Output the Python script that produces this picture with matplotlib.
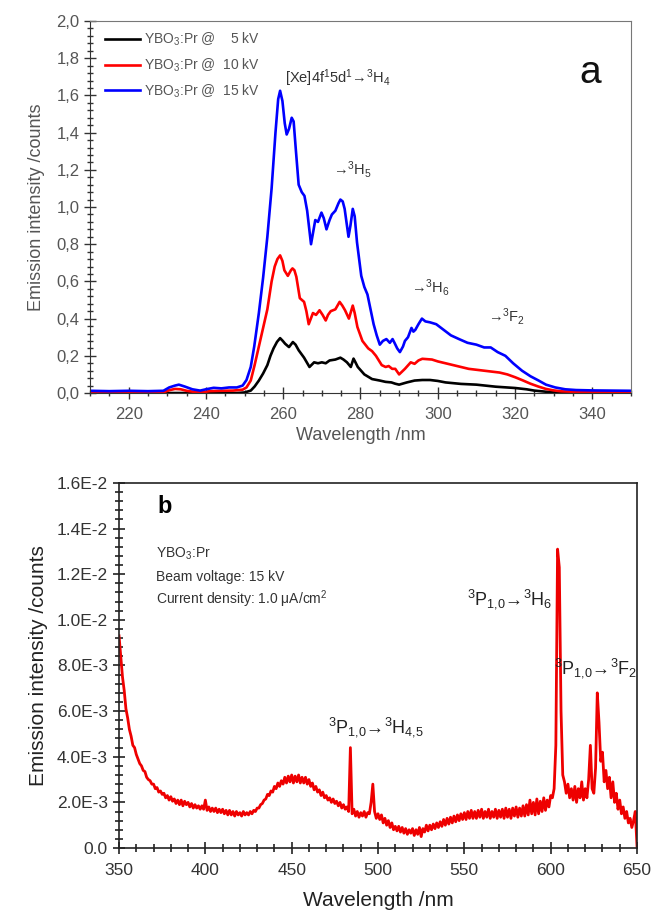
import numpy as np
import matplotlib
matplotlib.use("Agg")
import matplotlib.pyplot as plt
from matplotlib.ticker import MultipleLocator, FuncFormatter

plt.rcParams['font.family'] = ['Liberation Sans', 'DejaVu Sans']
plt.rcParams['mathtext.fontset'] = 'custom'
plt.rcParams['mathtext.rm'] = 'Liberation Sans'
plt.rcParams['mathtext.default'] = 'regular'

# ---- panel a: cathodoluminescence spectra in the UV ----
wl_15kv = [210, 215, 220, 225, 229, 230.5, 232, 233, 234.5, 236.5, 238.5, 240, 242, 244, 246, 248,
           249.5, 250.5, 251.6, 252.5, 253.7, 254.8, 255.9, 257, 258, 258.7, 259.2, 259.8, 260.4,
           260.9, 261.5, 262.2, 262.7, 263.3, 264.0, 264.8, 265.5, 266.2, 267.2, 268.3, 269.0,
           269.9, 270.5, 271.2, 272.0, 272.6, 273.5, 274.3, 274.8, 275.4, 275.9, 276.9, 277.4,
           278.0, 278.5, 279.1, 280.2, 281.0, 281.8, 282.6, 283.4, 284.2, 285.0, 285.8, 286.7,
           287.6, 288.3, 288.8, 289.5, 290.2, 291.0, 291.5, 292.3, 293.2, 293.7, 294.2, 295.0,
           295.9, 296.8, 298.0, 299.6, 301.5, 303.4, 305.5, 307.7, 310.0, 312.0, 313.7, 315.5,
           317.5, 319.5, 321.8, 324.0, 326.1, 328.0, 330.4, 333, 335.8, 340, 345, 350]
int_15kv = [0.012, 0.010, 0.012, 0.010, 0.012, 0.030, 0.040, 0.045, 0.035, 0.020, 0.013, 0.020,
            0.028, 0.025, 0.030, 0.030, 0.040, 0.070, 0.14, 0.25, 0.43, 0.62, 0.84, 1.10, 1.40,
            1.58, 1.625, 1.57, 1.45, 1.39, 1.42, 1.48, 1.46, 1.30, 1.12, 1.08, 1.06, 0.98, 0.80,
            0.93, 0.92, 0.97, 0.94, 0.88, 0.93, 0.96, 0.98, 1.02, 1.04, 1.03, 0.99, 0.84, 0.90,
            0.99, 0.95, 0.81, 0.63, 0.57, 0.53, 0.45, 0.37, 0.31, 0.26, 0.28, 0.29, 0.27, 0.29,
            0.27, 0.24, 0.22, 0.25, 0.28, 0.30, 0.35, 0.33, 0.34, 0.37, 0.40, 0.385, 0.38, 0.37,
            0.34, 0.31, 0.29, 0.27, 0.26, 0.245, 0.245, 0.22, 0.20, 0.16, 0.12, 0.09, 0.067, 0.045,
            0.030, 0.020, 0.016, 0.014, 0.013, 0.012]

wl_10kv = [210, 225, 229, 230.5, 232, 233.5, 235, 237, 239, 241, 244, 247, 249.5, 250.5, 251.6,
           252.6, 253.7, 254.8, 255.9, 257, 257.8, 258.5, 259.2, 259.8, 260.3, 261.2, 262.0,
           262.4, 262.9, 263.4, 264.3, 265.4, 266.0, 266.6, 267.7, 268.5, 269.4, 270.2, 271.0,
           271.6, 272.3, 273.5, 274.6, 275.3, 276.0, 277.0, 278.0, 278.5, 279.2, 280.5, 282.0,
           283.0, 284.0, 285.5, 286.5, 287.3, 288.2, 289.0, 290.0, 291.5, 293.0, 294.0, 295.0,
           296.0, 298.5, 300.0, 302.0, 304.0, 308.0, 312.0, 316.0, 318.0, 320.0, 322.0, 324.0,
           326.0, 328.0, 330.0, 332.0, 336, 350]
int_10kv = [0.003, 0.003, 0.004, 0.015, 0.022, 0.020, 0.012, 0.006, 0.004, 0.010, 0.012, 0.013,
            0.018, 0.030, 0.067, 0.15, 0.25, 0.35, 0.45, 0.60, 0.68, 0.72, 0.74, 0.71, 0.66,
            0.63, 0.66, 0.67, 0.66, 0.625, 0.51, 0.49, 0.44, 0.37, 0.43, 0.42, 0.445, 0.42, 0.39,
            0.42, 0.44, 0.45, 0.49, 0.47, 0.445, 0.40, 0.47, 0.43, 0.355, 0.28, 0.24, 0.225, 0.20,
            0.15, 0.14, 0.145, 0.13, 0.13, 0.10, 0.13, 0.165, 0.157, 0.175, 0.184, 0.18, 0.17,
            0.16, 0.15, 0.13, 0.12, 0.11, 0.10, 0.085, 0.068, 0.05, 0.035, 0.022, 0.014, 0.009,
            0.006, 0.005]

wl_5kv = [210, 248, 250, 251.6, 252.6, 253.7, 254.8, 255.9, 256.7, 257.5, 258.4, 259.2, 259.9,
          260.5, 261.5, 262.5, 263.2, 264.0, 265.4, 266.8, 268.0, 269.0, 270.0, 271.0, 272.0,
          273.5, 274.8, 275.6, 276.5, 277.5, 278.2, 278.7, 279.3, 281.0, 283.0, 285.0, 286.5,
          288.0, 289.0, 290.0, 292.0, 294.0, 296, 298.0, 300, 302.0, 306.0, 310.0, 315.0, 320.0,
          323, 325.0, 328, 330.0, 335, 350]
int_5kv = [0.0, 0.0, 0.003, 0.013, 0.035, 0.067, 0.105, 0.15, 0.20, 0.24, 0.275, 0.295, 0.28,
           0.265, 0.247, 0.274, 0.26, 0.23, 0.19, 0.14, 0.165, 0.16, 0.165, 0.16, 0.175, 0.18,
           0.19, 0.18, 0.165, 0.14, 0.185, 0.165, 0.14, 0.10, 0.075, 0.067, 0.06, 0.057, 0.05,
           0.045, 0.057, 0.067, 0.07, 0.07, 0.065, 0.057, 0.049, 0.045, 0.034, 0.027, 0.02, 0.013,
           0.007, 0.004, 0.002, 0.001]

labels_a = ["YBO$_3$:Pr @    5 kV", "YBO$_3$:Pr @  10 kV", "YBO$_3$:Pr @  15 kV"]

# ---- panel b: visible spectrum at 15 kV, 1 nm steps, values in 1e-3 counts ----
wl_vis = np.arange(350, 651)
int_vis = [
    9.3, 8.4, 7.5, 6.9, 6.1, 5.7, 5.2, 4.9, 4.5, 4.4,          # 350-359
    4.1, 3.9, 3.7, 3.6, 3.4, 3.35, 3.1, 3.0, 2.95, 2.8,        # 360-369
    2.8, 2.6, 2.65, 2.45, 2.5, 2.35, 2.4, 2.2, 2.3, 2.1,       # 370-379
    2.25, 2.05, 2.15, 1.95, 2.1, 1.9, 2.1, 1.85, 2.05, 1.9,    # 380-389
    2.0, 1.8, 1.95, 1.75, 1.9, 1.75, 1.85, 1.7, 1.85, 1.7,     # 390-399
    2.1, 1.65, 1.8, 1.6, 1.75, 1.6, 1.75, 1.55, 1.7, 1.55,     # 400-409
    1.7, 1.5, 1.65, 1.45, 1.65, 1.45, 1.6, 1.4, 1.6, 1.45,     # 410-419
    1.55, 1.4, 1.6, 1.45, 1.55, 1.45, 1.6, 1.5, 1.65, 1.6,     # 420-429
    1.75, 1.75, 1.9, 1.95, 2.1, 2.15, 2.35, 2.3, 2.5, 2.45,    # 430-439
    2.7, 2.6, 2.85, 2.7, 2.95, 2.8, 3.1, 2.85, 3.15, 2.9,      # 440-449
    3.2, 2.85, 3.15, 2.9, 3.2, 2.85, 3.1, 2.85, 3.1, 2.8,      # 450-459
    3.0, 2.7, 2.85, 2.55, 2.7, 2.45, 2.55, 2.3, 2.45, 2.2,     # 460-469
    2.3, 2.1, 2.2, 2.0, 2.15, 1.95, 2.05, 1.85, 2.0, 1.75,     # 470-479
    1.9, 1.7, 1.8, 1.6, 4.4, 1.5, 1.7, 1.4, 1.6, 1.35,         # 480-489
    1.55, 1.4, 1.6, 1.35, 1.55, 1.5, 2.0, 2.8, 1.6, 1.3,       # 490-499
    1.5, 1.25, 1.45, 1.1, 1.3, 1.0, 1.2, 0.9, 1.1, 0.8,        # 500-509
    0.95, 0.75, 0.95, 0.7, 0.9, 0.65, 0.85, 0.6, 0.8, 0.65,    # 510-519
    0.85, 0.55, 0.8, 0.6, 0.9, 0.5, 0.85, 0.7, 1.0, 0.75,      # 520-529
    1.0, 0.8, 1.05, 0.85, 1.1, 0.9, 1.15, 0.95, 1.25, 1.0,     # 530-539
    1.3, 1.05, 1.35, 1.1, 1.4, 1.15, 1.45, 1.2, 1.5, 1.25,     # 540-549
    1.55, 1.25, 1.6, 1.3, 1.65, 1.3, 1.6, 1.3, 1.65, 1.35,     # 550-559
    1.7, 1.3, 1.6, 1.35, 1.7, 1.3, 1.6, 1.35, 1.7, 1.3,        # 560-569
    1.65, 1.35, 1.7, 1.3, 1.75, 1.35, 1.7, 1.3, 1.75, 1.4,     # 570-579
    1.8, 1.35, 1.75, 1.4, 1.85, 1.4, 1.9, 1.45, 2.1, 1.5,      # 580-589
    2.0, 1.45, 2.15, 1.5, 2.05, 1.6, 2.2, 1.65, 2.1, 1.8,      # 590-599
    2.3, 2.2, 2.6, 4.5, 13.1, 12.3, 6.0, 3.2, 2.9, 2.4,        # 600-609
    2.8, 2.2, 2.6, 2.1, 2.7, 2.0, 2.6, 2.2, 2.9, 2.1,          # 610-619
    2.6, 2.2, 3.0, 4.5, 2.6, 2.4, 3.5, 6.8, 5.5, 3.8,          # 620-629
    4.2, 2.9, 3.4, 2.6, 3.1, 2.2, 2.9, 2.0, 2.4, 1.7,          # 630-639
    2.1, 1.5, 1.8, 1.3, 1.6, 1.1, 1.3, 0.9, 1.2, 1.6,          # 640-649
    0.1]                                                       # 650

GRAY = "#555555"

fig = plt.figure(figsize=(6.54, 9.14), dpi=100)

# panel a
ax1 = fig.add_axes([0.1376, 0.570, 0.8272, 0.407])
ax1.plot(wl_5kv, int_5kv, color="black", lw=1.9, label=labels_a[0])
ax1.plot(wl_10kv, int_10kv, color="red", lw=1.9, label=labels_a[1])
ax1.plot(wl_15kv, int_15kv, color="blue", lw=1.9, label=labels_a[2])
ax1.set_xlim(210, 350)
ax1.set_ylim(0, 2.0)
ax1.xaxis.set_major_locator(MultipleLocator(20))
ax1.xaxis.set_minor_locator(MultipleLocator(5))
ax1.yaxis.set_major_locator(MultipleLocator(0.2))
ax1.yaxis.set_minor_locator(MultipleLocator(0.04))
ax1.yaxis.set_major_formatter(FuncFormatter(lambda v, p: ("%.1f" % v).replace(".", ",")))
ax1.tick_params(which="major", direction="inout", length=8, width=1, colors="#333333",
                labelcolor=GRAY, labelsize=12)
ax1.tick_params(which="minor", direction="inout", length=5, width=1, colors="#333333")
ax1.tick_params(axis="x", pad=6)
for s in ax1.spines.values():
    s.set_color("#777777")
ax1.spines["bottom"].set_color("#333333")
ax1.spines["left"].set_color("#333333")
ax1.set_xlabel("Wavelength /nm", fontsize=13, color=GRAY, labelpad=4)
ax1.set_ylabel("Emission intensity /counts", fontsize=13, color=GRAY, labelpad=8)
leg = ax1.legend(loc="upper left", frameon=False, fontsize=10, handlelength=2.5,
                 handletextpad=0.3, labelspacing=0.6, borderaxespad=0.3,
                 bbox_to_anchor=(0.01, 1.0))
for t in leg.get_texts():
    t.set_color(GRAY)

ax1.text(260.5, 1.69, "[Xe]4f$^1$5d$^1$\u2192$^3$H$_4$", fontsize=10.5, color="#333333",
         va="center", ha="left")
ax1.text(272.9, 1.20, "\u2192$^3$H$_5$", fontsize=10.5, color="#333333", va="center")
ax1.text(293.2, 0.57, "\u2192$^3$H$_6$", fontsize=10.5, color="#333333", va="center")
ax1.text(313.1, 0.41, "\u2192$^3$F$_2$", fontsize=10.5, color="#333333", va="center")
ax1.text(339.4, 1.72, "a", fontsize=28, color="#111111", va="center", ha="center")

# panel b
ax2 = fig.add_axes([0.1820, 0.0722, 0.7920, 0.3994])
ax2.plot(wl_vis, np.array(int_vis) * 1e-3, color="#ee0000", lw=2.0)
ax2.set_xlim(350, 650)
ax2.set_ylim(0, 0.016)
ax2.xaxis.set_major_locator(MultipleLocator(50))
ax2.xaxis.set_minor_locator(MultipleLocator(10))
ax2.yaxis.set_major_locator(MultipleLocator(0.002))
ax2.yaxis.set_minor_locator(MultipleLocator(0.0004))


def sci_fmt(v, pos):
    if abs(v) < 1e-12:
        return "0.0"
    exp = int(np.floor(np.log10(abs(v))))
    return "%.1fE%d" % (v / 10 ** exp, exp)


ax2.yaxis.set_major_formatter(FuncFormatter(sci_fmt))
ax2.tick_params(which="major", direction="inout", length=9, width=1.2, colors="#222222",
                labelcolor="#333333", labelsize=12.5)
ax2.tick_params(which="minor", direction="inout", length=6, width=1.2, colors="#222222")
ax2.tick_params(axis="x", pad=6)
for s in ax2.spines.values():
    s.set_color("#222222")
    s.set_linewidth(1.2)
ax2.set_xlabel("Wavelength /nm", fontsize=15, color="#222222", labelpad=10)
ax2.set_ylabel("Emission intensity /counts", fontsize=15, color="#222222", labelpad=6)

ax2.text(372, 0.01495, "b", fontsize=17, fontweight="bold", va="center", ha="left")
ax2.text(371.5, 0.0129, "YBO$_3$:Pr", fontsize=10, color="#333333", va="center")
ax2.text(371.5, 0.01188, "Beam voltage: 15 kV", fontsize=10, color="#333333", va="center")
ax2.text(371.5, 0.01091, "Current density: 1.0 \u03bcA/cm$^2$", fontsize=10, color="#333333",
         va="center")
ax2.text(499, 0.0053, "$^3$P$_{1{,}0}$\u2192$^3$H$_{4{,}5}$", fontsize=13, color="#222222",
         ha="center", va="center")
ax2.text(576.5, 0.0109, "$^3$P$_{1{,}0}$\u2192$^3$H$_6$", fontsize=13, color="#222222",
         ha="center", va="center")
ax2.text(626, 0.0079, "$^3$P$_{1{,}0}$\u2192$^3$F$_2$", fontsize=13, color="#222222",
         ha="center", va="center")

fig.savefig("out.png", dpi=100)
